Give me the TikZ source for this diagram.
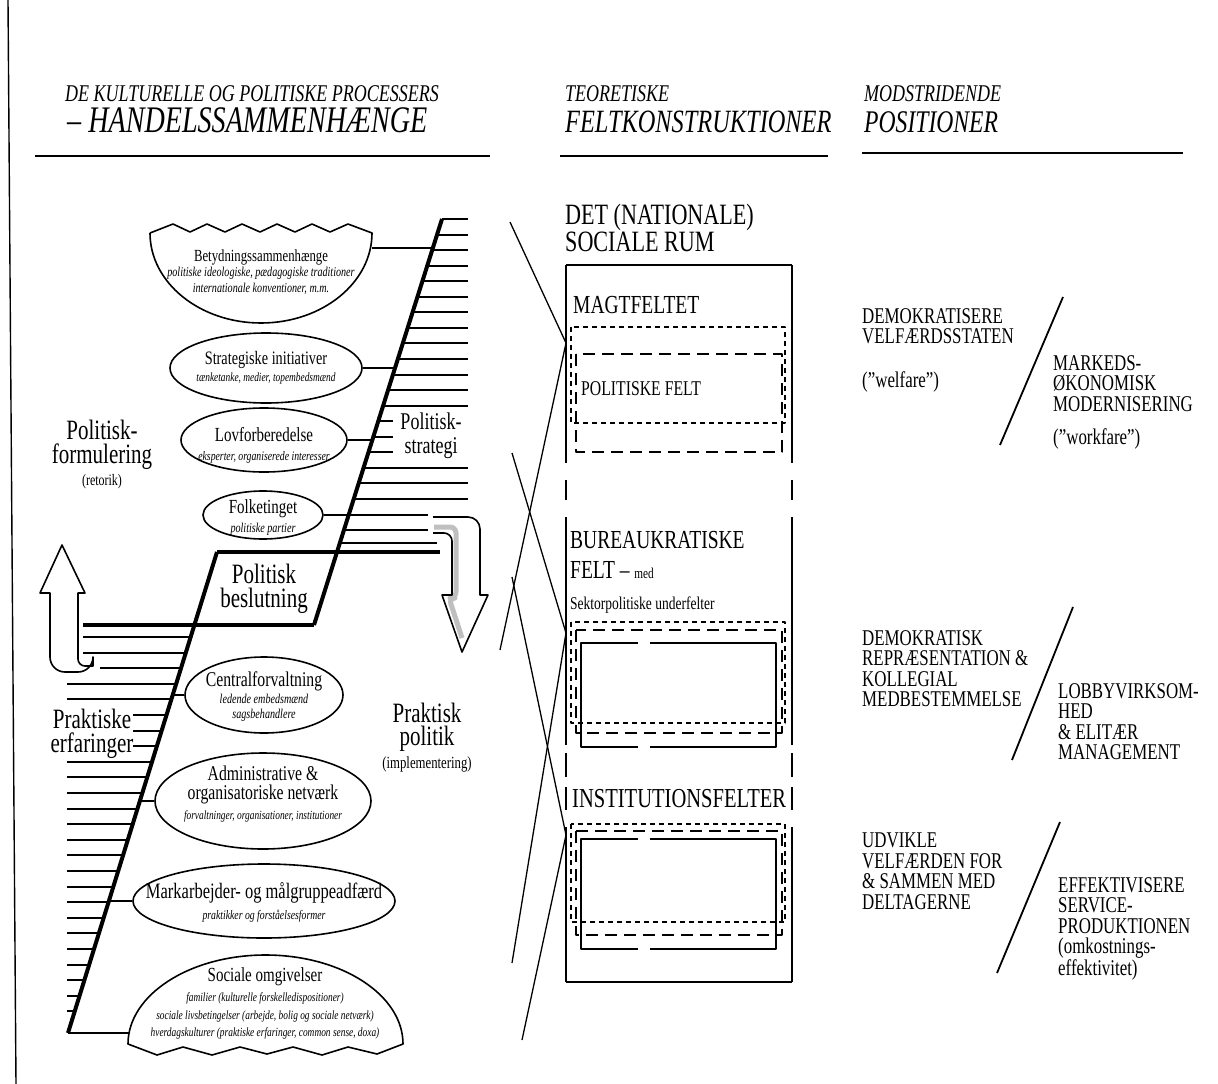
\documentclass[tikz,border=0pt]{standalone}
\usepackage{fontspec}
\setmainfont[FakeStretch=0.75]{Liberation Serif}
\usetikzlibrary{shapes.geometric, calc}

\newcommand{\fsz}[2]{\fontsize{#1}{#2}\selectfont}

\tikzset{
  every picture/.style={line join=round},
  frame/.style={line width=1.4pt},
  head/.style={font=\itshape\fsz{24}{26}, anchor=base west, inner sep=0pt},
  headbig/.style={font=\itshape\fsz{32.5}{36}, anchor=base west, inner sep=0pt},
  rule/.style={line width=2.6pt},
  field/.style={font=\fsz{26}{22}, anchor=base west, inner sep=0pt},
  posn/.style={font=\fsz{22.5}{20.5}, anchor=north west, inner sep=0pt, align=left},
  slash/.style={line width=1.8pt},
  rung/.style={line width=2pt},
  diag/.style={line width=4pt},
  conn/.style={line width=1.8pt},
  cross/.style={line width=1.3pt},
  ellbox/.style={ellipse, draw, line width=1.6pt, inner sep=0pt},
  etxt/.style={font=\itshape\fsz{13.5}{16}, align=center, anchor=north, inner sep=0pt},
  biglab/.style={font=\fsz{28}{24}, align=center, anchor=north, inner sep=1pt},
  shortdash/.style={line width=1.1pt, dash pattern=on 5pt off 4pt},
  longdash/.style={line width=1.1pt, dash pattern=on 12pt off 7pt},
  hollow/.style={draw, fill=white, line width=1.6pt},
}

\begin{document}
\begin{tikzpicture}[x=1pt, y=-1pt]
\useasboundingbox (0,0) rectangle (1218,1084);
\draw[frame] (8,0) -- (16,1084);

% --- headings
\node[head] (h1a) at (65,101) {DE KULTURELLE OG POLITISKE PROCESSERS};
\node[headbig, font=\itshape\fsz{37.5}{38}] (h1b) at (67,132) {– HANDELSSAMMENHÆNGE};
\node[head] (h2a) at (565,101) {TEORETISKE};
\node[headbig] (h2b) at (565,132) {FELTKONSTRUKTIONER};
\node[head] (h3a) at (864,101) {MODSTRIDENDE};
\node[headbig, font=\itshape\fsz{31.5}{36}] (h3b) at (864,132) {POSITIONER};
\draw[rule] (35,156) -- (490,156);
\draw[rule] (560,156) -- (828,156);
\draw[rule] (862,153) -- (1183,153);

% --- upper ladder
\draw[diag] (442,219) -- (314,625);
\foreach \k [evaluate=\k as \yy using 219+15.55*\k,
             evaluate=\k as \xx using 442-0.3153*15.55*\k] in {0,...,18}
  \draw[rung] (\xx,\yy) -- (468,\yy);
\foreach \yy/\xe in {514.5/428, 530/428, 543/437}
  \draw[rung] ({442-0.3153*(\yy-219)},\yy) -- (\xe,\yy);
\draw[diag] (217,552) -- (440,552);
\draw[diag] (83,625) -- (314,625);

% --- lower ladder
\draw[diag] (217,552) -- (68,1033);
\foreach \k [evaluate=\k as \yy using 621.4+15.6*\k,
             evaluate=\k as \xx using 217-0.31*(621.4+15.6*\k-552)] in {1,...,25}{
  \ifnum\k<3 \def\xs{83}\else\ifnum\k=3 \def\xs{100}\else\def\xs{67}\fi\fi
  \draw[rung] (\xs,\yy) -- (\xx,\yy);
}

% --- top wavy shape
\draw[line width=1.6pt] (150,233) -- (173,224) -- (190,232) -- (207,224) -- (225,232)
  -- (242,224) -- (260,232) -- (277,224) -- (295,232) -- (312,224) -- (330,232)
  -- (348,224) -- (372,233) arc[start angle=0, end angle=180, x radius=111, y radius=90];
\coordinate (betyd) at (372,248);
\coordinate (dB) at ({442-0.3153*(248-219)},248);
\draw[conn] (betyd) -- (dB);
\node[etxt] (betydtxt) at (261,249) {{\fsz{17}{16}\upshape Betydningssammenhænge}\\
  politiske ideologiske, pædagogiske traditioner\\ internationale konventioner, m.m.};

% --- ellipses, upper half
\node[ellbox, minimum width=192pt, minimum height=70pt] (strat) at (266,368) {};
\node[etxt, font=\itshape\fsz{12.5}{17}] (strattxt) at (266,351)
  {{\fsz{19}{17}\upshape Strategiske initiativer}\\ tænketanke, medier, topembedsmænd};
\coordinate (dS) at ({442-0.3153*(368-219)},368);
\draw[conn] (strat.east) -- (dS);

\node[ellbox, minimum width=166pt, minimum height=64pt] (lov) at (264,440) {};
\node[etxt, font=\itshape\fsz{13}{19}] (lovtxt) at (264,427)
  {{\fsz{20}{19}\upshape Lovforberedelse}\\ eksperter, organiserede interesser};
\coordinate (dL) at ({442-0.3153*(440-219)},440);
\draw[conn] (lov.east) -- (dL);

\node[ellbox, minimum width=120pt, minimum height=48pt] (folk) at (263,515) {};
\node[etxt, font=\itshape\fsz{13.5}{19}] (folktxt) at (263,499)
  {{\fsz{20}{19}\upshape Folketinget}\\ politiske partier};
\coordinate (dF) at ({442-0.3153*(515-219)},515);
\draw[conn] (folk.east) -- (dF);

% --- ellipses, lower half
\node[ellbox, minimum width=158pt, minimum height=76pt] (central) at (264,695) {};
\node[etxt, font=\itshape\fsz{13.5}{15}] (centraltxt) at (264,672)
  {{\fsz{21}{15}\upshape Centralforvaltning}\\[2pt] ledende embedsmænd\\ sagsbehandlere};
\coordinate (dC) at ({217-0.31*(695-552)},695);
\draw[conn] (central.west) -- (dC);

\node[ellbox, minimum width=216pt, minimum height=96pt] (admin) at (263,801) {};
\node[etxt, font=\fsz{21}{19}] (admintxt) at (263,766)
  {Administrative \&\\ organisatoriske netværk\\[1pt]
   {\itshape\fsz{12.5}{15}forvaltninger, organisationer, institutioner}};
\coordinate (dA) at ({217-0.31*(801-552)},801);
\draw[conn] (admin.west) -- (dA);

\node[ellbox, minimum width=262pt, minimum height=74pt] (mark) at (264,901) {};
\node[etxt, font=\itshape\fsz{13}{21}] (marktxt) at (264,882)
  {{\fsz{22}{21}\upshape Markarbejder- og målgruppeadfærd}\\ praktikker og forståelsesformer};
\coordinate (dM) at ({217-0.31*(901-552)},901);
\draw[conn] (mark.west) -- (dM);

% --- bottom wavy shape
\draw[line width=1.6pt] (128,1044) arc[start angle=180, end angle=360, x radius=137.5, y radius=89]
  -- (377,1054) -- (348,1047) -- (322,1055) -- (293,1047) -- (267,1054) -- (240,1047)
  -- (212,1055) -- (183,1047) -- (157,1055) -- cycle;
\coordinate (sociale) at (129,1033);
\coordinate (dO) at (68,1033);
\draw[conn] (dO) -- (sociale);
\node[etxt, font=\itshape\fsz{12.5}{17.5}] (socialetxt) at (265,967)
  {{\fsz{20}{17}\upshape Sociale omgivelser}\\[3pt]
   familier (kulturelle forskelledispositioner)\\
   sociale livsbetingelser (arbejde, bolig og sociale netværk)\\
   hverdagskulturer (praktiske erfaringer, common sense, doxa)};

% --- big labels
\node[biglab, fill=white, font=\fsz{24}{24}, inner sep=2pt, minimum width=76pt] (strategi) at (431,411) {Politisk-\\strategi};
\node[biglab] (formul) at (102,419) {Politisk-\\formulering\\[-2pt]{\fsz{16}{16}(retorik)}};
\node[biglab, font=\fsz{28}{24}] (beslut) at (264,563) {Politisk\\beslutning};
\node[biglab, fill=white, inner sep=0pt] (erfar) at (92,709) {Praktiske\\erfaringer};
\node[biglab, font=\fsz{28}{23}] (praktisk) at (427,702) {Praktisk\\politik\\{\fsz{17}{17}(implementering)}};

% --- arrows
\draw[hollow] (93,666) [rounded corners=7pt] -- (78,666) -- (78,620) [sharp corners] -- (78,593)
  -- (85,593) -- (62,545) -- (40,593) -- (50,593) [rounded corners=15pt] -- (50,672) -- (93,672) [sharp corners] -- cycle;
\fill[white, rounded corners=8pt] (433,517) -- (480,517) -- (480,595) -- (488,595) -- (462,652)
  -- (442,595) -- (452,595) -- (452,533) -- (433,533) -- cycle;
\draw[gray!50, line width=5pt, rounded corners=6pt] (434,527) -- (456,527) -- (456,598) -- (449,598) -- (462,638);
\draw[line width=1.6pt, rounded corners=8pt] (433,533) -- (452,533) -- (452,570) [sharp corners] -- (452,595) -- (442,595)
  -- (462,652) -- (488,595) -- (480,595) [rounded corners=12pt] -- (480,517) -- (433,517);

% --- social space box
\node[anchor=north west, inner sep=0pt, align=left, font=\fsz{29.5}{22}] (rum) at (565,204) {DET (NATIONALE)\\SOCIALE RUM};
\draw[line width=2pt] (566,265) -- (792,265);
\draw[line width=2pt] (566,982) -- (792,982);
\foreach \ya/\yb in {265/463, 480/500, 517/745, 753/777, 787/810, 827/982}{
  \draw[line width=2pt] (566,\ya) -- (566,\yb);
  \draw[line width=2pt] (792,\ya) -- (792,\yb);
}
\node[field] (magt) at (573,313) {MAGTFELTET};
\draw[shortdash] (571,327) rectangle (785,423);
\draw[longdash] (576,354) rectangle (782,452);
\node[field, font=\fsz{21}{22}] (polfelt) at (581,395) {POLITISKE FELT};

\node[field] (bur) at (570,548) {BUREAUKRATISKE};
\node[field] (burb) at (570,578) {FELT – {\fsz{15}{16}med}};
\node[field, font=\fsz{18}{20}] (sektor) at (570,609) {Sektorpolitiske underfelter};
\draw[shortdash] (571,622) rectangle (785,723);
\draw[longdash] (576,630) rectangle (782,733);
\draw[line width=1.3pt] (650,643) -- (776,643) -- (776,747) -- (650,747);
\draw[line width=1.3pt] (638,747) -- (581,747) -- (581,643) -- (638,643);

\node[field, font=\fsz{27.4}{22}] (inst) at (572,807) {INSTITUTIONSFELTER};
\draw[shortdash] (571,824) rectangle (785,922);
\draw[longdash] (576,831) rectangle (782,935);
\draw[line width=1.3pt] (650,839) -- (776,839) -- (776,949) -- (650,949);
\draw[line width=1.3pt] (638,949) -- (581,949) -- (581,839) -- (638,839);

% --- crossing lines into the box
\coordinate (pMagt) at (566,343);
\coordinate (pBur) at (566,633);
\coordinate (pInst) at (566,835);
\draw[cross] (510,222) -- (pMagt) -- (500,650);
\draw[cross] (512,453) -- (pBur) -- (512,963);
\draw[cross] (512,577) -- (pInst) -- (522,1040);

% --- positions
\node[posn] (welf) at (862,308) {DEMOKRATISERE\\VELFÆRDSSTATEN};
\node[posn, anchor=base west] (welfq) at (862,387) {("welfare")};
\node[posn] (mark1) at (1053,355) {MARKEDS-\\ØKONOMISK\\MODERNISERING};
\node[posn, anchor=base west] (workq) at (1053,444) {("workfare")};
\draw[slash] (1063,297) -- (1000,445);

\node[posn] (demo) at (862,630) {DEMOKRATISK\\REPRÆSENTATION \&\\KOLLEGIAL\\MEDBESTEMMELSE};
\node[posn] (lobby) at (1058,683) {LOBBYVIRKSOM-\\HED\\\& ELITÆR\\MANAGEMENT};
\draw[slash] (1073,607) -- (1012,760);

\node[posn] (udv) at (862,833) {UDVIKLE\\VELFÆRDEN FOR\\\& SAMMEN MED\\DELTAGERNE};
\node[posn] (eff) at (1058,877) {EFFEKTIVISERE\\SERVICE-\\PRODUKTIONEN\\(omkostnings-\\effektivitet)};
\draw[slash] (1060,822) -- (997,973);
\end{tikzpicture}
\end{document}
